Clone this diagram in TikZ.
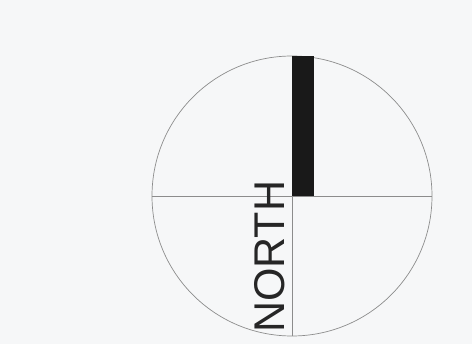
\documentclass[tikz,border=0pt]{standalone}
\usepackage{fontspec}
\setmainfont{Liberation Sans}
\definecolor{bgpaper}{RGB}{246,247,248}
\begin{document}
\begin{tikzpicture}[x=1pt,y=-1pt,
  thinline/.style={draw=black!45,line width=0.7pt},
  barstyle/.style={fill=black!90,draw=none}]
\fill[bgpaper] (0,0) rectangle (472,344);
\useasboundingbox (0,0) rectangle (472,344);
\coordinate (c) at (292,196);
\node[circle,draw=black!45,line width=0.7pt,minimum size=280pt,inner sep=0] (ring) at (c) {};
\draw[thinline] (ring.west) -- (ring.east);
\draw[thinline] (ring.north) -- (ring.south);
\fill[barstyle] (ring.north) rectangle ([xshift=22pt]c);
\node[rotate=90,anchor=base west,inner sep=0,font=\fontsize{43}{43}\selectfont,text=black!85] (lbl) at (284.5,333) {NORTH};
\end{tikzpicture}
\end{document}
